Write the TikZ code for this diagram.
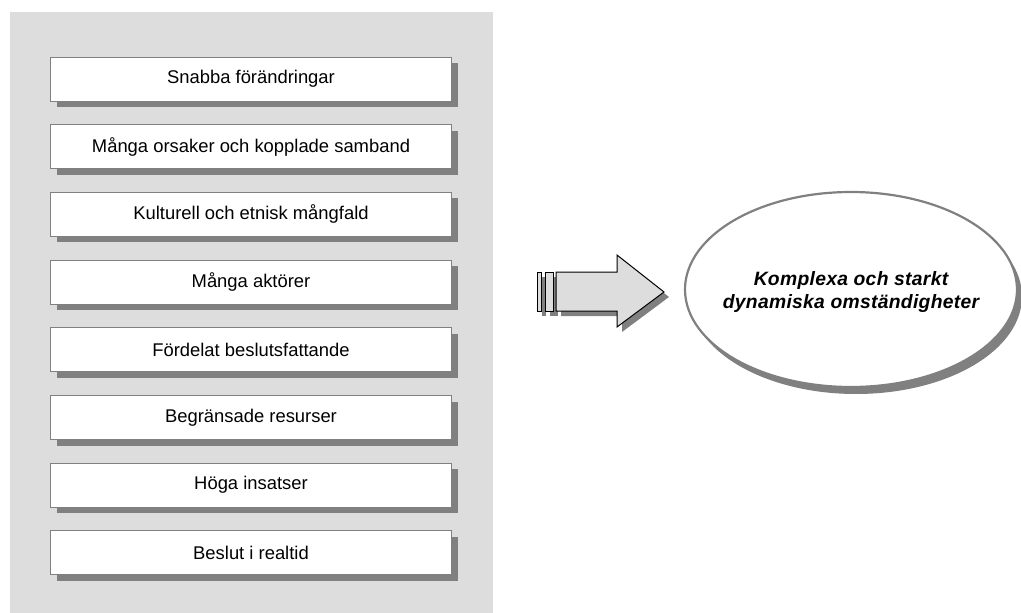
\documentclass[tikz,border=0pt]{standalone}
\usepackage{fontspec}
\setmainfont{Liberation Sans}
\newfontfamily\ellfont[LetterSpace=1.5]{Liberation Sans}
\usetikzlibrary{shapes.geometric,shadows}
\definecolor{panel}{HTML}{DDDDDD}
\definecolor{shade}{HTML}{808080}
\tikzset{
  factor/.style={draw=shade, line width=1pt, fill=white, minimum width=401pt, minimum height=44pt, inner sep=0pt,
    font=\fontsize{18.4}{21}\selectfont,
    drop shadow={shadow xshift=6pt, shadow yshift=-6pt, fill=shade, opacity=1}},
  result/.style={ellipse, draw=shade, line width=2.2pt, fill=white, minimum width=332pt, minimum height=195pt, inner sep=0pt,
    drop shadow={shadow xshift=5pt, shadow yshift=-7pt, fill=shade, opacity=1}},
  resulttext/.style={align=center, inner sep=0pt, font=\ellfont\bfseries\itshape\fontsize{19.3}{23}\selectfont},
  arrowbody/.style={fill=panel, draw=black, line width=1pt, line join=miter},
  arrowshadow/.style={fill=shade, draw=none}
}
\begin{document}
\begin{tikzpicture}[x=1pt,y=-1pt]
\useasboundingbox (0,0) rectangle (1021,613);
\fill[panel] (10,12) rectangle (493,613);
\foreach \t [count=\i] in {Snabba förändringar, Många orsaker och kopplade samband, Kulturell och etnisk mångfald, Många aktörer, Fördelat beslutsfattande, Begränsade resurser, Höga insatser, Beslut i realtid}{
  \node[factor] (b\i) at (251, {79+67.7*(\i-1)}) {\t};
}
\node[result] (E) at (851,289.5) {};
\node[resulttext] (Et) at ([yshift=-3pt]E.center) {Komplexa och starkt\\dynamiska omständigheter};
% arrow shadow
\begin{scope}[shift={(5,5)}]
  \fill[arrowshadow] (537,272) rectangle (541,311);
  \fill[arrowshadow] (545,272) rectangle (553,311);
  \fill[arrowshadow] (556,272) -- (617,272) -- (617,255) -- (664,292) -- (617,327) -- (617,311) -- (556,311) -- cycle;
\end{scope}
\draw[arrowbody] (537,272) rectangle (541,311);
\draw[arrowbody] (545,272) rectangle (553,311);
\draw[arrowbody] (556,272) -- (617,272) -- (617,255) -- (664,292) -- (617,327) -- (617,311) -- (556,311) -- cycle;
\end{tikzpicture}
\end{document}
